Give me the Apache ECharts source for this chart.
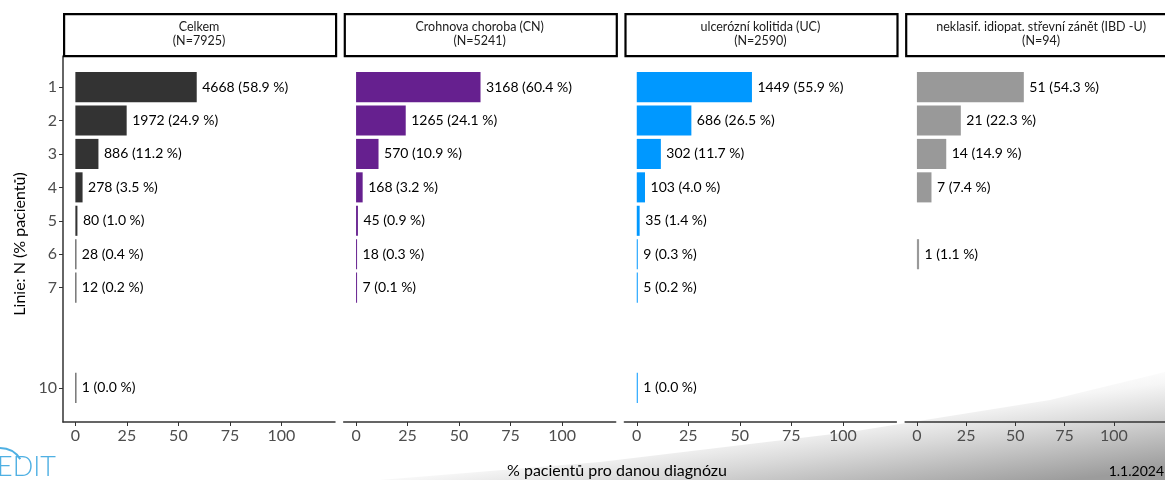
<!DOCTYPE html>
<html>
<head>
<meta charset="utf-8">
<script src="https://cdn.jsdelivr.net/npm/echarts@6/dist/echarts.min.js"></script>
<style>html,body{margin:0;padding:0;background:#fff}#c{width:1165px;height:480px}</style>
</head>
<body>
<div id="c"></div>
<script>
// ---- data ----
const panelTitles = ['Celkem', 'Crohnova choroba (CN)', 'ulcerózní kolitida (UC)', 'neklasif. idiopat. střevní zánět (IBD -U)'];
const panelTotals = [7925, 5241, 2590, 94];
const panelColors = ['#333333', '#66208F', '#0098FF', '#999999'];

const celkemLinie = [1, 2, 3, 4, 5, 6, 7, 10];
const celkemN = [4668, 1972, 886, 278, 80, 28, 12, 1];
const celkemPct = [58.9, 24.9, 11.2, 3.5, 1.0, 0.4, 0.2, 0.0];

const cnLinie = [1, 2, 3, 4, 5, 6, 7];
const cnN = [3168, 1265, 570, 168, 45, 18, 7];
const cnPct = [60.4, 24.1, 10.9, 3.2, 0.9, 0.3, 0.1];

const ucLinie = [1, 2, 3, 4, 5, 6, 7, 10];
const ucN = [1449, 686, 302, 103, 35, 9, 5, 1];
const ucPct = [55.9, 26.5, 11.7, 4.0, 1.4, 0.3, 0.2, 0.0];

const ibduLinie = [1, 2, 3, 4, 6];
const ibduN = [51, 21, 14, 7, 1];
const ibduPct = [54.3, 22.3, 14.9, 7.4, 1.1];

const xTicks = [0, 25, 50, 75, 100];
const yTicks = [1, 2, 3, 4, 5, 6, 7, 10];

const xAxisTitle = '% pacientů pro danou diagnózu';
const yAxisTitle = 'Linie: N (% pacientů)';
const dateText = '1.1.2024';

// ---- build ----
const panels = [
  [celkemLinie, celkemN, celkemPct],
  [cnLinie, cnN, cnPct],
  [ucLinie, ucN, ucPct],
  [ibduLinie, ibduN, ibduPct]
];

const FONT = 'Lato, "Liberation Sans", Arial, sans-serif';
const gridLeft0 = 63, gridW = 272, gridStep = 280.7, gridTop = 56, gridBottomY = 422;

const grids = [], xAxes = [], yAxes = [], series = [], graphics = [];

panels.forEach((p, i) => {
  const left = gridLeft0 + i * gridStep;
  grids.push({ left: left, top: gridTop, width: gridW, height: gridBottomY - gridTop });
  xAxes.push({
    gridIndex: i, type: 'value', min: -6, max: 126,
    splitLine: { show: false },
    axisLine: { show: true, onZero: false, lineStyle: { color: '#333', width: 1.5 } },
    axisTick: { show: true, customValues: xTicks, length: 4, lineStyle: { color: '#333', width: 1 } },
    axisLabel: { show: true, customValues: xTicks, color: '#4d4d4d', fontSize: 16, fontFamily: FONT, margin: 6 }
  });
  yAxes.push({
    gridIndex: i, type: 'value', min: 0.07, max: 11.02, inverse: true,
    splitLine: { show: false },
    axisLine: { show: i === 0, onZero: false, lineStyle: { color: '#333', width: 1.5 } },
    axisTick: { show: i === 0, customValues: yTicks, length: 4, lineStyle: { color: '#333', width: 1 } },
    axisLabel: { show: i === 0, customValues: yTicks, color: '#4d4d4d', fontSize: 16, fontFamily: FONT, margin: 6 }
  });
  const [lin, n, pct] = p;
  const color = panelColors[i];
  series.push({
    type: 'custom',
    xAxisIndex: i, yAxisIndex: i,
    data: lin.map((l, k) => [pct[k], l, n[k]]),
    encode: { x: 0, y: 1 },
    clip: false,
    renderItem: function (params, api) {
      const v = api.value(0), l = api.value(1), cnt = api.value(2);
      const p0 = api.coord([0, l]);
      const p1 = api.coord([v, l]);
      const h = api.size([0, 0.9])[1];
      const w = Math.max(p1[0] - p0[0], 1);
      return {
        type: 'group',
        children: [
          { type: 'rect', shape: { x: p0[0], y: p0[1] - h / 2, width: w, height: h }, style: { fill: color } },
          { type: 'text', style: { x: p0[0] + w + 5.5, y: p0[1], text: cnt + ' (' + v.toFixed(1) + ' %)', fill: '#000', font: '14px ' + FONT, align: 'left', verticalAlign: 'middle' } }
        ]
      };
    }
  });
  // header strip
  graphics.push({
    type: 'rect', left: left, top: 13,
    shape: { x: 0, y: 0, width: gridW, height: 42 },
    style: { fill: '#fff', stroke: '#000', lineWidth: 2.2 }, z: 5
  });
  graphics.push({
    type: 'text', x: left + gridW / 2, y: 34, z: 6,
    style: { text: panelTitles[i] + '\n(N=' + panelTotals[i] + ')', fill: '#1a1a1a', font: '12.5px ' + FONT, align: 'center', verticalAlign: 'middle', lineHeight: 14 }
  });
});

// background swoosh
graphics.push({
  type: 'polygon', z: -10,
  shape: { points: [[380, 480], [600, 462], [850, 432], [1050, 400], [1165, 372], [1165, 480]] },
  style: {
    fill: new echarts.graphic.LinearGradient(900, 398, 913, 500, [
      { offset: 0, color: 'rgba(255,255,255,1)' },
      { offset: 0.18, color: '#f6f6f6' },
      { offset: 0.45, color: '#dadada' },
      { offset: 0.75, color: '#b8b8b8' },
      { offset: 1, color: '#9c9c9c' }
    ], true)
  }
});

// axis titles
graphics.push({ type: 'text', x: 617, y: 471, style: { text: xAxisTitle, fill: '#000', font: '16px ' + FONT, align: 'center', verticalAlign: 'middle' } });
graphics.push({ type: 'text', x: 20, y: 244, rotation: Math.PI / 2, style: { text: yAxisTitle, fill: '#000', font: '16px ' + FONT, align: 'center', verticalAlign: 'middle' } });
graphics.push({ type: 'text', x: 1164, y: 471, style: { text: dateText, fill: '#000', font: '14px ' + FONT, align: 'right', verticalAlign: 'middle' } });

// logo
graphics.push({ type: 'text', x: -3, y: 467, style: { text: 'EDIT', fill: '#4fb0e3', font: '300 27px Lato, "Open Sans", sans-serif', align: 'left', verticalAlign: 'middle' } });
graphics.push({ type: 'arc', shape: { cx: 0, cy: 472, r: 24, startAngle: -Math.PI * 0.5, endAngle: -Math.PI * 0.18 }, style: { stroke: '#4fb0e3', lineWidth: 2, fill: null } });

const chart = echarts.init(document.getElementById('c'), null, { renderer: 'canvas' });
chart.setOption({
  animation: false,
  backgroundColor: '#fff',
  grid: grids,
  xAxis: xAxes,
  yAxis: yAxes,
  series: series,
  graphic: graphics
});
</script>
</body>
</html>
